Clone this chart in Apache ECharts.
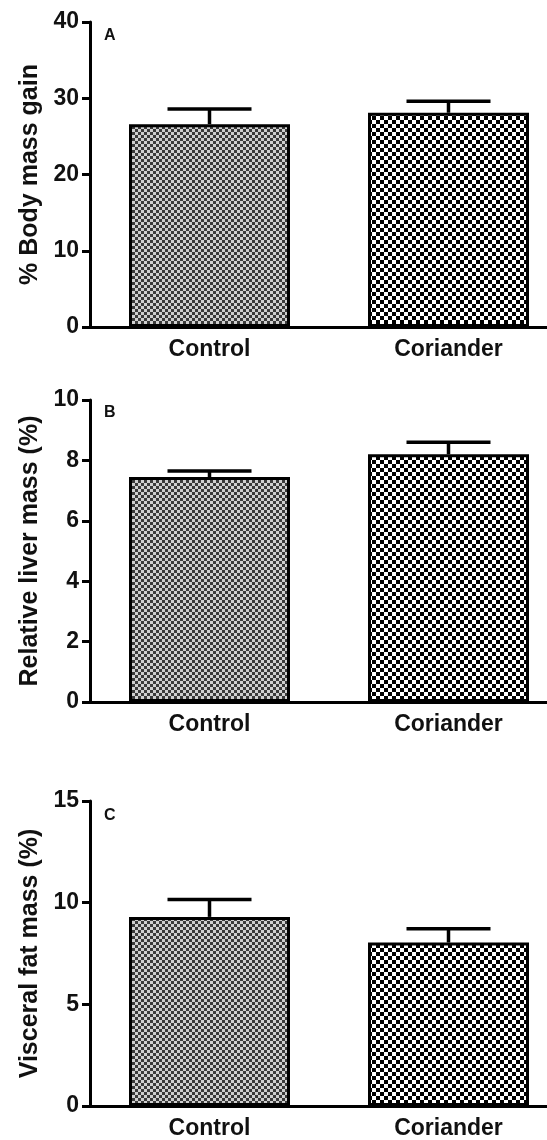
<!DOCTYPE html>
<html>
<head>
<meta charset="utf-8">
<script src="https://cdn.jsdelivr.net/npm/echarts@6/dist/echarts.min.js"></script>
<style>
html,body{margin:0;padding:0;background:#fff;overflow:hidden;width:547px;height:1140px;}
#chart{width:572px;height:1140px;}
</style>
</head>
<body>
<div id="chart"></div>
<script>
// ---- data ----
var categories = ['Control', 'Coriander'];
var panelLetters = ['A', 'B', 'C'];
var axisTitles = ['% Body mass gain', 'Relative liver mass (%)', 'Visceral fat mass (%)'];
var bodyMassGainMean = [26.6, 28.1];
var bodyMassGainSem = [2.0, 1.5];
var liverMassMean = [7.45, 8.2];
var liverMassSem = [0.2, 0.4];
var visceralFatMean = [9.3, 8.04];
var visceralFatSem = [0.85, 0.68];
var yMax = [40, 10, 15];
var yInterval = [10, 2, 5];

// ---- patterns (style only) ----
function checker(cell, c1, c2) {
  var cv = document.createElement('canvas');
  cv.width = cell * 2; cv.height = cell * 2;
  var ctx = cv.getContext('2d');
  ctx.fillStyle = c2; ctx.fillRect(0, 0, cell * 2, cell * 2);
  ctx.fillStyle = c1;
  ctx.fillRect(0, 0, cell, cell);
  ctx.fillRect(cell, cell, cell, cell);
  return cv;
}
var patterns = [
  { image: checker(3, '#3a3a3a', '#cfcfcf'), repeat: 'repeat' },
  { image: checker(4, '#000000', '#ffffff'), repeat: 'repeat' }
];

var FONT = 'Liberation Sans, Arial, Helvetica, sans-serif';
var means = [bodyMassGainMean, liverMassMean, visceralFatMean];
var sems = [bodyMassGainSem, liverMassSem, visceralFatSem];
var gridTops = [22, 400, 801];
var gridHeights = [305, 302, 305];
var letterTops = [23, 400, 803];

var grids = [], xAxes = [], yAxes = [], series = [], titles = [];
for (var p = 0; p < 3; p++) {
  grids.push({ left: 90, right: 4, top: gridTops[p], height: gridHeights[p], containLabel: false });
  xAxes.push({
    type: 'category', gridIndex: p, data: categories, boundaryGap: true,
    axisLine: { lineStyle: { color: '#000', width: 3 } },
    axisTick: { alignWithLabel: true, length: 8, lineStyle: { color: '#000', width: 3 } },
    axisLabel: { color: '#111', fontFamily: FONT, fontWeight: 'bold', fontSize: 23, margin: 11 }
  });
  yAxes.push({
    type: 'value', gridIndex: p, min: 0, max: yMax[p], interval: yInterval[p],
    name: axisTitles[p], nameLocation: 'middle', nameGap: 47,
    nameTextStyle: { color: '#111', fontFamily: FONT, fontWeight: 'bold', fontSize: 25 },
    axisLine: { show: true, lineStyle: { color: '#000', width: 3 } },
    axisTick: { show: true, length: 8, lineStyle: { color: '#000', width: 3 } },
    axisLabel: { color: '#111', fontFamily: FONT, fontWeight: 'bold', fontSize: 23, margin: 11 },
    splitLine: { show: false }
  });
  series.push({
    type: 'bar', xAxisIndex: p, yAxisIndex: p, barWidth: 161,
    data: means[p].map(function (v, i) {
      return { value: v, itemStyle: { color: patterns[i], borderColor: '#000', borderWidth: 3 } };
    }),
    z: 2
  });
  series.push({
    type: 'custom', xAxisIndex: p, yAxisIndex: p, z: 3,
    data: means[p].map(function (v, i) { return [i, v, sems[p][i]]; }),
    renderItem: function (params, api) {
      var m = api.value(1), s = api.value(2);
      var base = api.coord([api.value(0), m]);
      var top = api.coord([api.value(0), m + s]);
      var hw = 42;
      var st = { stroke: '#000', lineWidth: 3.5 };
      return {
        type: 'group',
        children: [
          { type: 'line', shape: { x1: base[0], y1: base[1], x2: top[0], y2: top[1] }, style: st },
          { type: 'line', shape: { x1: top[0] - hw, y1: top[1], x2: top[0] + hw, y2: top[1] }, style: st }
        ]
      };
    }
  });
  titles.push({
    text: panelLetters[p], left: 99, top: letterTops[p],
    textStyle: { color: '#111', fontFamily: FONT, fontWeight: 'bold', fontSize: 16 }
  });
}

var chart = echarts.init(document.getElementById('chart'), null, { renderer: 'canvas' });
chart.setOption({
  animation: false,
  backgroundColor: '#fff',
  title: titles,
  grid: grids,
  xAxis: xAxes,
  yAxis: yAxes,
  series: series
});
</script>
</body>
</html>
